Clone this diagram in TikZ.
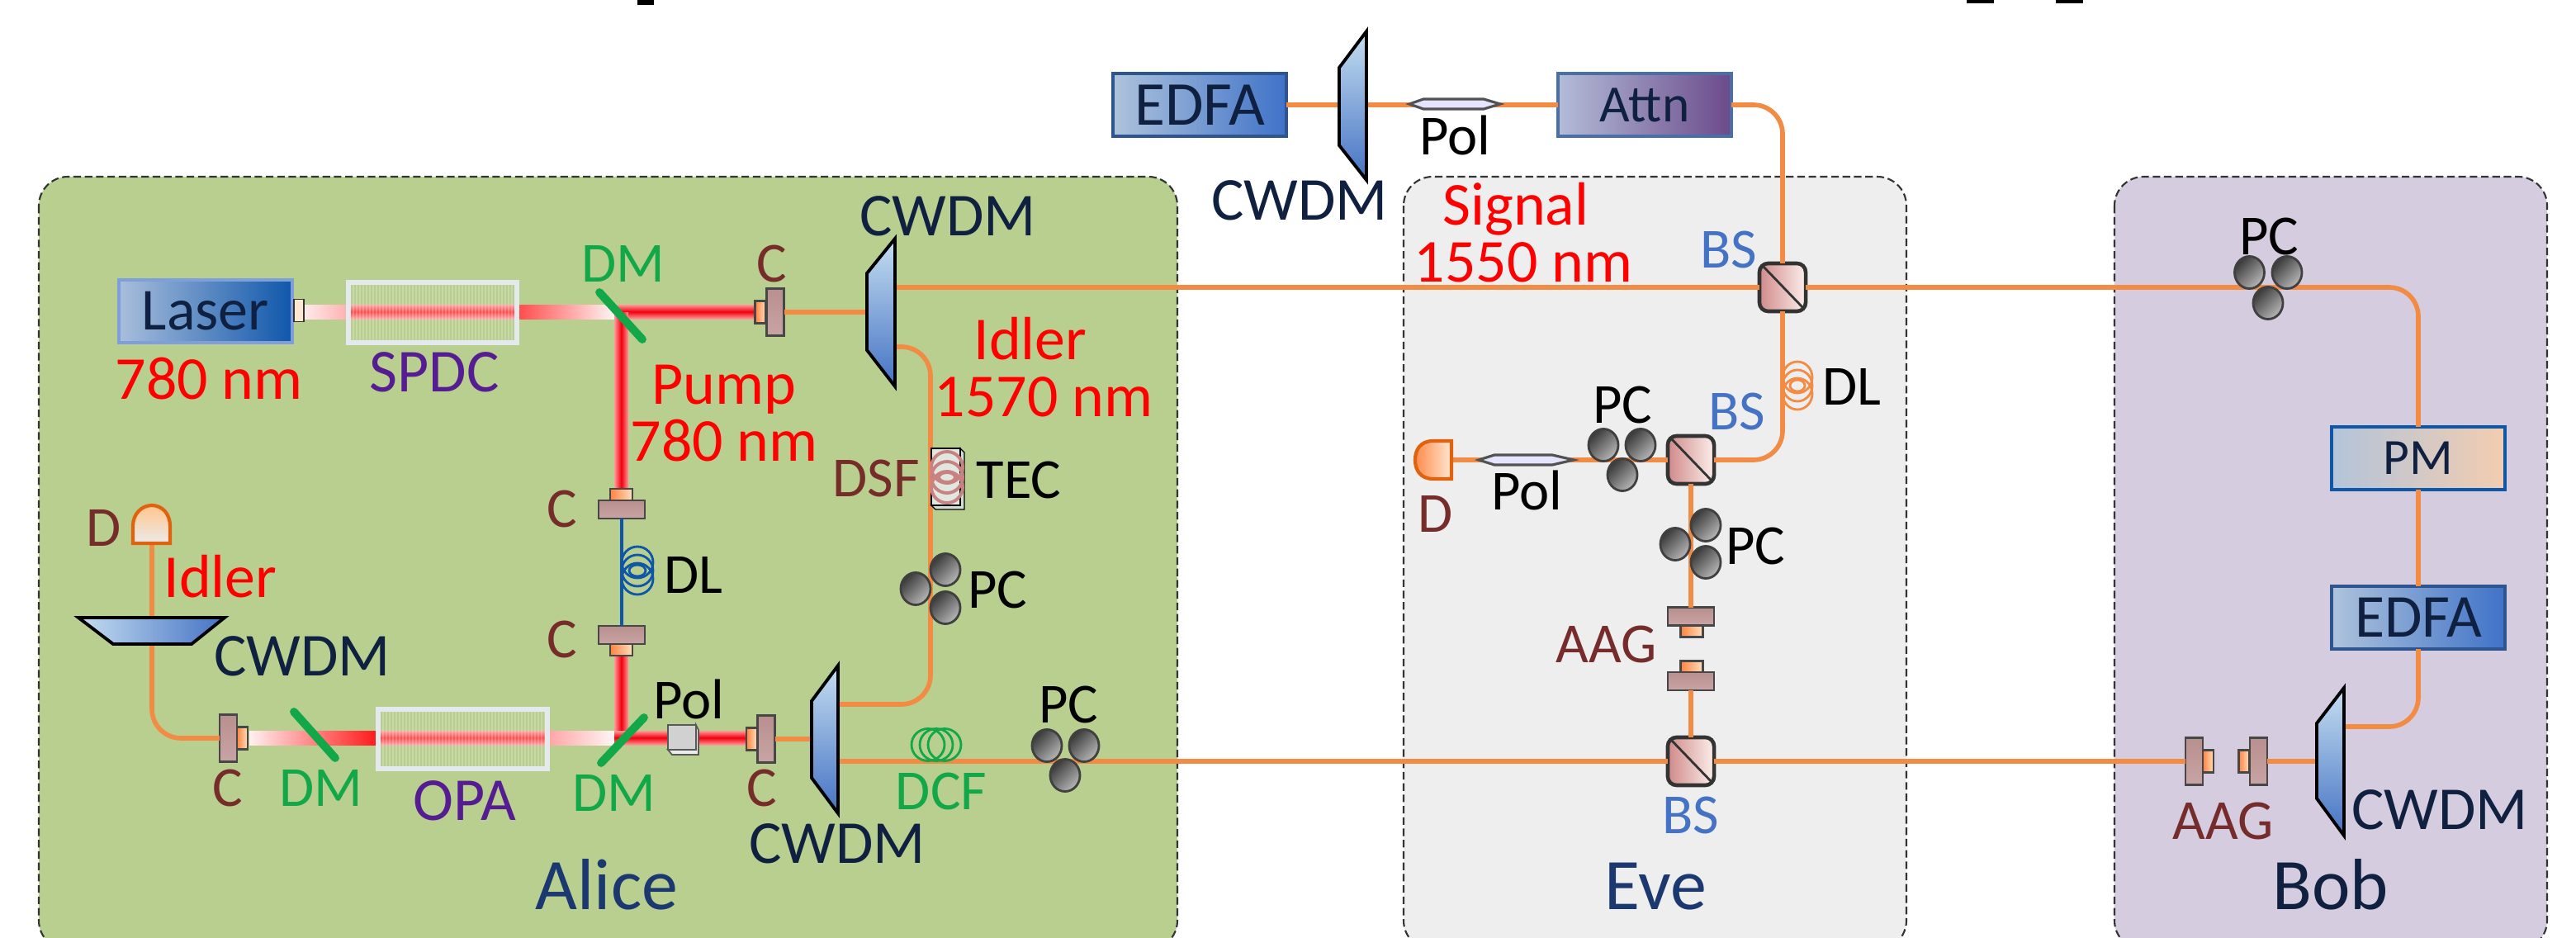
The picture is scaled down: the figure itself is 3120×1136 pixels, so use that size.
\documentclass[tikz,border=0pt]{standalone}
\usepackage{fontspec}
\setmainfont{Carlito}
\usetikzlibrary{shapes.geometric}
\definecolor{fib}{HTML}{F28C45}
\definecolor{aliceg}{HTML}{B9CF8F}
\definecolor{eveg}{HTML}{EEEEEE}
\definecolor{bobg}{HTML}{D5CCDF}
\definecolor{navy}{HTML}{0F2040}
\definecolor{pname}{HTML}{1C3870}
\definecolor{brn}{HTML}{772C2C}
\definecolor{grn}{HTML}{12A84A}
\definecolor{purp}{HTML}{561D92}
\definecolor{blu}{HTML}{4472C4}
\definecolor{dlblue}{HTML}{0D56A8}
\definecolor{ored}{HTML}{E0620F}
\definecolor{prtop}{HTML}{C5DEF0}
\definecolor{prbot}{HTML}{4472C4}
\tikzset{
  panel/.style={draw=black!80,line width=.6pt,dash pattern=on 2.6pt off 1.3pt,rounded corners=10pt},
  fiber/.style={draw=fib,line width=1.6pt},
  fibercurve/.style={fiber,rounded corners=10pt},
  lab/.style={anchor=base,inner sep=0pt,font=\fontsize{21}{21}\selectfont},
  labm/.style={anchor=base,inner sep=0pt,font=\fontsize{19.5}{20}\selectfont},
  redlab/.style={lab,text=red},
  redtwo/.style={anchor=base,inner sep=0pt,align=center,text=red,font=\fontsize{21}{19.6}\selectfont},
  navylab/.style={lab,text=navy},
  brnlab/.style={labm,text=brn},
  grnlab/.style={labm,text=grn},
  purlab/.style={lab,text=purp},
  blklab/.style={labm,text=black},
  blulab/.style={labm,text=blu},
  namelab/.style={anchor=base,inner sep=0pt,font=\fontsize{25}{25}\selectfont},
  devbox/.style={inner sep=0pt,outer sep=0pt,minimum width=2.1cm,minimum height=.76cm,line width=1.1pt,font=\fontsize{21}{21}\selectfont,text=navy},
  beamsplit/.style={inner sep=0pt,outer sep=0pt,minimum width=.56cm,minimum height=.58cm,rounded corners=3pt,draw=black!80,line width=1.3pt,left color=bsl,right color=bsr},
  cbig/.style={inner sep=0pt,outer sep=0pt,draw=black!72,line width=.8pt,top color=cbt,bottom color=cbb},
  csm/.style={inner sep=0pt,outer sep=0pt,draw=black!72,line width=.8pt,left color=orange!70!red!75,right color=orange!25},
  cbigh/.style={cbig,minimum width=.21cm,minimum height=.57cm},
  cbigv/.style={cbig,minimum width=.56cm,minimum height=.22cm},
  csmh/.style={csm,minimum width=.13cm,minimum height=.27cm},
  csmv/.style={csm,minimum width=.27cm,minimum height=.14cm},
  pcel/.style={ellipse,inner sep=0pt,draw=black!75,line width=.8pt,top color=black!78,bottom color=black!28,shading angle=45,minimum width=.36cm,minimum height=.39cm},
  prism/.style={draw=black,line width=1.1pt,line join=miter},
  lens/.style={draw=black!68,line width=.9pt,fill=blue!10!white},
  dmir/.style={draw=grn,line width=2.8pt,line cap=round},
  detec/.style={draw=ored,line width=1.2pt},
  coil/.style={line width=.8pt},
  xtalbox/.style={inner sep=0pt,outer sep=0pt,draw=xtalb,line width=1.7pt,minimum width=2.04cm,minimum height=.72cm},
}
\definecolor{bsl}{HTML}{D08A8A}
\definecolor{bsr}{HTML}{FBEEEA}
\definecolor{cbt}{HTML}{B98F8F}
\definecolor{cbb}{HTML}{C9A4A4}
\definecolor{xtalb}{HTML}{E4E9EE}
\begin{document}
\begin{tikzpicture}[x=0.01cm,y=-0.01cm]
\useasboundingbox (0,0) rectangle (3120,1136);
\clip (0,0) rectangle (3120,1136);
% cut-off marks at the top edge
\fill[black] (772,0) rectangle (792,6);
\fill[black] (2382,0) rectangle (2415,4);
\fill[black] (2490,0) rectangle (2523,4);
% panels
\path[panel,fill=aliceg] (47,214) rectangle (1426,1150);
\path[panel,fill=eveg] (1700,214) rectangle (2309,1150);
\path[panel,fill=bobg] (2561,214) rectangle (3085,1150);

% ---------- beams
\path[left color=red!8,right color=red!35] (368,369) rectangle (430,386);
\path[top color=red!35!white,bottom color=red!35!white,middle color=red!70!white] (420,369) rectangle (628,386);
\path[left color=red!70!white,right color=red!4] (628,369) rectangle (744,386);
\path[top color=red!40!white,bottom color=red!40!white,middle color=red!95!blue] (744,369) rectangle (916,386);
\path[left color=red!40!white,right color=red!40!white,middle color=red!95!blue] (744,378) rectangle (761,592);
\path[left color=red!40!white,right color=red!40!white,middle color=red!95!blue] (744,794) rectangle (761,888);
\path[left color=red!6,right color=red!90] (302,885) rectangle (456,902);
\path[top color=red!35!white,bottom color=red!35!white,middle color=red!70!white] (456,885) rectangle (665,902);
\path[left color=red!35!white,right color=red!4] (665,885) rectangle (744,902);
\path[top color=red!40!white,bottom color=red!40!white,middle color=red!95!blue] (744,885) rectangle (906,902);

% ---------- component nodes used by connectors
\definecolor{lasl}{HTML}{A9BEDB}\definecolor{lasr}{HTML}{0F57AB}\definecolor{lasb}{HTML}{7E9FD9}
\definecolor{edl}{HTML}{AEC3DC}\definecolor{edr}{HTML}{3F72C8}\definecolor{edb}{HTML}{2F5590}
\definecolor{atl}{HTML}{B3BCD8}\definecolor{atr}{HTML}{6B4A8A}\definecolor{atb}{HTML}{4A6FA8}
\definecolor{pml}{HTML}{B3C4DA}\definecolor{pmr}{HTML}{F3CDB0}
\node[devbox,left color=lasl,right color=lasr,draw=lasb,font=\fontsize{20.5}{21}\selectfont] (laser) at (249,377) {Laser};
\node[inner sep=0pt,outer sep=0pt,draw=black!80,line width=.5pt,fill=orange!18,minimum width=.12cm,minimum height=.27cm] (laserout) at (362,376) {};
\node[devbox,left color=edl,right color=edr,draw=edb,font=\fontsize{21.5}{22}\selectfont] (edfaA) at (1453,127) {EDFA};
\node[devbox,left color=atl,right color=atr,draw=atb,font=\fontsize{18}{19}\selectfont] (attn) at (1992,127) {Attn};
\node[devbox,left color=pml,right color=pmr,draw=dlblue,line width=1.3pt,font=\fontsize{17.5}{18}\selectfont] (pm) at (2929,555) {PM};
\node[devbox,left color=edl,right color=edr,draw=edb] (edfaB) at (2929,748) {EDFA};

\node[beamsplit] (bsA) at (2159,348) {};
\node[beamsplit] (bsB) at (2048,557) {};
\node[beamsplit] (bsC) at (2048,922) {};

\node[cbigh] (cTop) at (939,378) {};
\node[csmh] (cTopS) at (921,378) {};
\node[cbigh] (cRight) at (928,895) {};
\node[csmh] (cRightS) at (910.5,895) {};
\node[cbigh] (cLeft) at (276.5,894) {};
\node[csmh] (cLeftS) at (293.5,894) {};
\node[cbigv] (cUp) at (753,617) {};
\node[csmv] (cUpS) at (752.5,599) {};
\node[cbigv] (cLow) at (753,769) {};
\node[csmv] (cLowS) at (752.5,787) {};
\node[cbigv] (aagEa) at (2048,746.5) {};
\node[csmv] (aagEaS) at (2049,764.5) {};
\node[csmv] (aagEbS) at (2049,807.5) {};
\node[cbigv] (aagEb) at (2048,825) {};
\node[cbigh] (aagBa) at (2657.5,922) {};
\node[csmh] (aagBaS) at (2674.5,922) {};
\node[csmh] (aagBbS) at (2718,922) {};
\node[cbigh] (aagBb) at (2735.5,922) {};

% port coordinates
\coordinate (prTopL) at (1622,127);
\coordinate (prTopR) at (1655,127);
\coordinate (prAL) at (1050,378);
\coordinate (prAs) at (1084,348);
\coordinate (prAi) at (1084,420);
\coordinate (prBL) at (983,895);
\coordinate (prBi) at (1015,853);
\coordinate (prBs) at (1015,922);
\coordinate (prBobL) at (2806,922);
\coordinate (prBobR) at (2839,880);
\coordinate (detEve) at (1758,557);
\coordinate (detAli) at (184,658);
\coordinate (prHt) at (184,748);
\coordinate (prHb) at (184,780);
\coordinate (idlerTurn) at (1127,640);

% ---------- fibres
\draw[fiber] (edfaA.east) -- (prTopL);
\draw[fiber] (prTopR) -- (attn.west);
\draw[fibercurve] (attn.east) -| (bsA.north);
\draw[fibercurve] (bsA.south) |- (bsB.east);
\draw[fiber] (detEve) -- (bsB.west);
\draw[fiber] (bsB.south) -- (aagEa.north);
\draw[fiber] (aagEb.south) -- (bsC.north);
\draw[fiber] (prAs) -- (bsA.west);
\draw[fibercurve] (bsA.east) -| (pm.north);
\draw[fiber] (pm.south) -- (edfaB.north);
\draw[fibercurve] (edfaB.south) |- (prBobR);
\draw[fiber] (prBs) -- (bsC.west);
\draw[fiber] (bsC.east) -- (aagBa.west);
\draw[fiber] (aagBb.east) -- (prBobL);
\draw[fibercurve] (prAi) -| (idlerTurn) |- (prBi);
\draw[fiber] (cTop.east) -- (prAL);
\draw[fiber] (cRight.east) -- (prBL);
\draw[fiber] (detAli) -- (prHt);
\draw[fibercurve] (prHb) |- (cLeft.west);
\draw[draw=dlblue,line width=1.2pt] (cUp.south) -- (cLow.north);
\foreach \n in {bsA,bsB,bsC} \draw[black!80,line width=.8pt] (\n.north west) ++(3,2) -- ([shift={(-2,-3)}]\n.south east);

% ---------- crystals
\foreach \i in {0,...,50} {
  \draw[white,opacity=.22,line width=.5pt] ({424+\i*4},345) -- ({424+\i*4},412);
  \draw[white,opacity=.22,line width=.5pt] ({460+\i*4},861) -- ({460+\i*4},929);
}
\node[xtalbox] (spdc) at (524,378.5) {};
\node[xtalbox] (opa) at (560.5,895) {};

% ---------- dichroic mirrors
\draw[dmir] (726,354) -- (778,411);
\draw[dmir] (356,862) -- (406,918);
\draw[dmir] (780,869) -- (728,924);

% ---------- prisms
\path[prism,top color=prtop,bottom color=prbot] (1655,38) -- (1622,82) -- (1622,176) -- (1655,218) -- cycle;
\path[prism,top color=prtop,bottom color=prbot] (1084,289) -- (1050,331) -- (1050,424) -- (1084,468) -- cycle;
\path[prism,top color=prtop,bottom color=prbot] (1015,806) -- (983,849) -- (983,942) -- (1015,985) -- cycle;
\path[prism,top color=prtop,bottom color=prbot] (2839,833) -- (2806,876) -- (2806,967) -- (2839,1012) -- cycle;
\path[prism,left color=prtop,right color=prbot] (95,748) -- (272,748) -- (232,780) -- (137,780) -- cycle;

% ---------- polarisers
\path[lens] (1707,126) -- (1724,120) -- (1797,120) -- (1817,126) -- (1797,132) -- (1724,132) -- cycle;
\path[lens] (1791,557) -- (1810,551) -- (1880,551) -- (1906,557) -- (1880,563) -- (1810,563) -- cycle;
\path[draw=black!65,line width=.5pt,fill=black!8] (809,908) -- (814,914) -- (846,914) -- (846,884) -- (843,878) -- (843,908) -- cycle;
\path[draw=black!65,line width=.5pt,fill=black!18] (809,878) rectangle (843,908);

% ---------- detectors
\path[detec,left color=orange!70!red!70,right color=orange!18] (1758,534) -- (1736,534) .. controls (1720,534) and (1714,545) .. (1714,557) .. controls (1714,569) and (1720,580) .. (1736,580) -- (1758,580) -- cycle;
\path[detec,top color=orange!45,bottom color=black!8] (161,658) -- (161,637) .. controls (161,622) and (172,612) .. (184,612) .. controls (196,612) and (206,622) .. (206,637) -- (206,658) -- cycle;

% ---------- TEC box and coils
\path[draw=black,line width=.4pt,fill=green!12!gray!30] (1128,612) -- (1133,617) -- (1168,617) -- (1168,548) -- (1163,543) -- (1163,612) -- cycle;
\path[draw=black,line width=.4pt,fill=green!12!gray!22] (1128,543) rectangle (1163,612);
\foreach \y in {566,578,590} \draw[coil,draw=red!40!gray!70,line width=1.1pt] (1147,\y) ellipse (19 and 19);
\draw[coil,draw=red!40!gray!70,line width=1.1pt] (1147,578) ellipse (10 and 6);
\foreach \y in {681,691,701} \draw[coil,draw=dlblue] (772,\y) ellipse (19 and 19);
\draw[coil,draw=dlblue] (772,691) ellipse (10 and 7);
\foreach \y in {457,467,477} \draw[coil,draw=fib] (2177,\y) ellipse (18 and 19);
\draw[coil,draw=fib] (2177,467) ellipse (9 and 7);
\foreach \x in {1124,1134,1144} \draw[coil,draw=grn] (\x,902) ellipse (20 and 19.5);

% ---------- polarisation controllers
\node[pcel] (pcAa) at (1109,713) {};
\node[pcel] (pcAb) at (1145,690) {};
\node[pcel] (pcAc) at (1145,736) {};
\node[pcel] (pcBa) at (1268,903) {};
\node[pcel] (pcBb) at (1313,903) {};
\node[pcel] (pcBc) at (1290,939) {};
\node[pcel] (pcCa) at (1942,539) {};
\node[pcel] (pcCb) at (1987,539) {};
\node[pcel] (pcCc) at (1965,575) {};
\node[pcel] (pcDa) at (2029,659) {};
\node[pcel] (pcDb) at (2066,636) {};
\node[pcel] (pcDc) at (2066,681) {};
\node[pcel] (pcEa) at (2724.5,330) {};
\node[pcel] (pcEb) at (2770,330) {};
\node[pcel] (pcEc) at (2747,367) {};

% ---------- labels
\node[redlab] (t780a) at (253,483) {780 nm};
\node[purlab] (tspdc) at (526,474) {SPDC};
\node[grnlab] (tdma) at (755,341) {DM};
\node[brnlab] (tca) at (935,341) {C};
\node[navylab] (tcwa) at (1148,285) {CWDM};
\node[redtwo] (tpump) at (877,558) {Pump\\780 nm};
\node[redtwo] (tidla) at (1264,504) {Idler\hspace*{.32cm}\\1570 nm};
\node[brnlab] (tdsf) at (1061,601) {DSF};
\node[blklab] (ttec) at (1234,603) {TEC};
\node[blklab] (tpca) at (1208,736) {PC};
\node[brnlab] (tda) at (126,661) {D};
\node[redlab] (tidlb) at (267,723) {Idler};
\node[navylab] (tcwb) at (366,818) {CWDM};
\node[brnlab] (tcb) at (681,638) {C};
\node[blklab] (tdla) at (840,718) {DL};
\node[brnlab] (tcc) at (681,796) {C};
\node[blklab] (tpola) at (834,870) {Pol};
\node[brnlab] (tcd) at (276,976) {C};
\node[grnlab] (tdmb) at (389,976) {DM};
\node[purlab] (topa) at (563,993) {OPA};
\node[grnlab] (tdmc) at (744,982) {DM};
\node[brnlab] (tce) at (923,976) {C};
\node[navylab] (tcwc) at (1014,1045) {CWDM};
\node[namelab,text=pname] (talice) at (735,1101) {Alice};
\node[grnlab] (tdcf) at (1140,980) {DCF};
\node[blklab] (tpcb) at (1294,875) {PC};
\node[blklab] (tpolb) at (1762,187) {Pol};
\node[navylab] (tcwd) at (1574,266) {CWDM};
\node[redlab] (tsig) at (1836,272) {Signal};
\node[redlab] (t1550) at (1845,341) {1550 nm};
\node[blulab] (tbsa) at (2094,324) {BS};
\node[blklab] (tdlb) at (2243,490) {DL};
\node[blulab] (tbsb) at (2104,520) {BS};
\node[blklab] (tpcc) at (1965,512) {PC};
\node[blklab] (tpolc) at (1849,617) {Pol};
\node[brnlab] (tdb) at (1739,644) {D};
\node[blklab] (tpcd) at (2126,683) {PC};
\node[brnlab] (taaga) at (1946,802) {AAG};
\node[blulab] (tbsc) at (2048,1009) {BS};
\node[namelab,text=pname] (teve) at (2005,1101) {Eve};
\node[namelab,text=navy] (tbob) at (2823,1101) {Bob};
\node[brnlab] (taagb) at (2693,1016) {AAG};
\node[navylab] (tcwe) at (2955,1004) {CWDM};
\node[blklab] (tpce) at (2748,308) {PC};
\end{tikzpicture}
\end{document}
